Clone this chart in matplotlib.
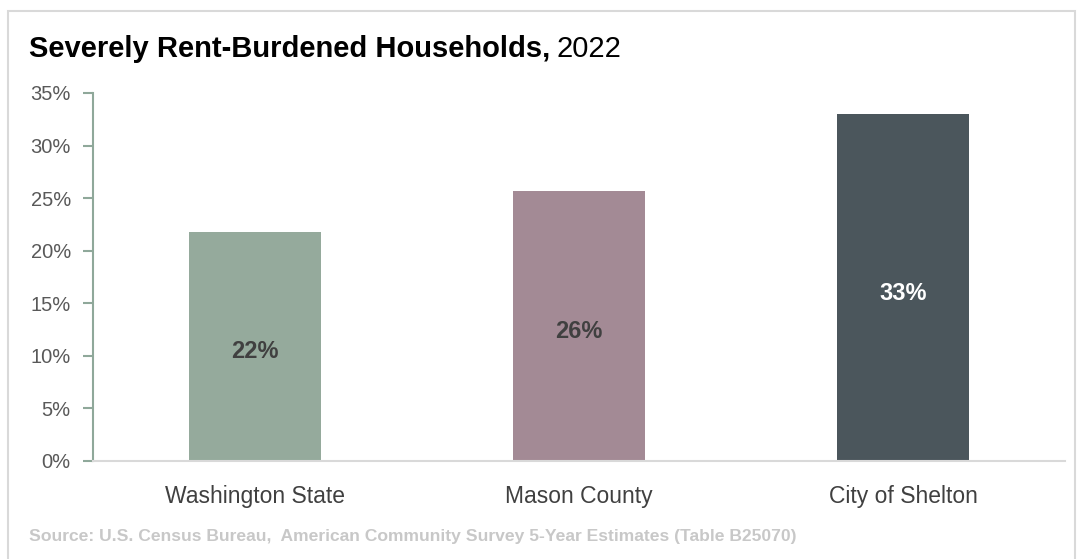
import matplotlib
matplotlib.use("Agg")
import matplotlib.pyplot as plt
from matplotlib.patches import Rectangle

# severely rent-burdened share of renter households, 2022 (percent)
places = ["Washington State", "Mason County", "City of Shelton"]
shares = [21.8, 25.7, 33.0]
bar_colors = ["#95AA9C", "#A38A95", "#4B565C"]
label_colors = ["#404040", "#404040", "#FFFFFF"]
yticks = [0, 5, 10, 15, 20, 25, 30, 35]

plt.rcParams["font.family"] = ["Liberation Sans", "DejaVu Sans"]

fig = plt.figure(figsize=(10.81, 5.59), dpi=100)
W, H = 1081, 559

# outer frame
fig.patches.append(Rectangle((8 / W, -2 / H), 1067 / W, 550 / H, transform=fig.transFigure,
                             fill=False, edgecolor="#D9D9D9", linewidth=1.5))

ax = fig.add_axes([93 / W, 1 - 461 / H, (1065 - 93) / W, (461 - 93) / H])
x = range(len(places))
ax.bar(x, shares, width=0.41, color=bar_colors, zorder=2)
for i, v in enumerate(shares):
    ax.annotate(f"{v:.0f}%", (i, v / 2), xytext=(0, -4), textcoords="offset points",
                ha="center", va="center", fontsize=17, fontweight="bold",
                color=label_colors[i])

ax.set_xlim(-0.5, 2.5)
ax.set_ylim(0, 35)
ax.set_yticks(yticks)
ax.set_yticklabels([f"{t}%" for t in yticks], fontsize=14.5, color="#595959")
ax.set_xticks(list(x))
ax.set_xticklabels(places, fontsize=16.5, color="#404040")
ax.tick_params(axis="x", length=0, pad=17)
ax.tick_params(axis="y", length=7, width=1.5, color="#8FA89A", pad=9)
for s in ["top", "right"]:
    ax.spines[s].set_visible(False)
ax.spines["left"].set_color("#8FA89A")
ax.spines["left"].set_linewidth(1.5)
ax.spines["bottom"].set_color("#D9D9D9")
ax.spines["bottom"].set_linewidth(1.5)

# title: bold lead followed by regular year
t1 = fig.text(29 / W, 1 - 49 / H, "Severely Rent-Burdened Households,", fontsize=21,
              fontweight="bold", color="#000000", va="center")
fig.canvas.draw()
bb = t1.get_window_extent()
fig.text((bb.x1 + 6) / W, 1 - 49 / H, "2022", fontsize=21, color="#000000", va="center")

fig.text(29 / W, 1 - 537 / H,
         "Source: U.S. Census Bureau,  American Community Survey 5-Year Estimates (Table B25070)",
         fontsize=12.6, fontweight="bold", color="#C8C8C8", va="center")

fig.savefig("out.png", dpi=100)
